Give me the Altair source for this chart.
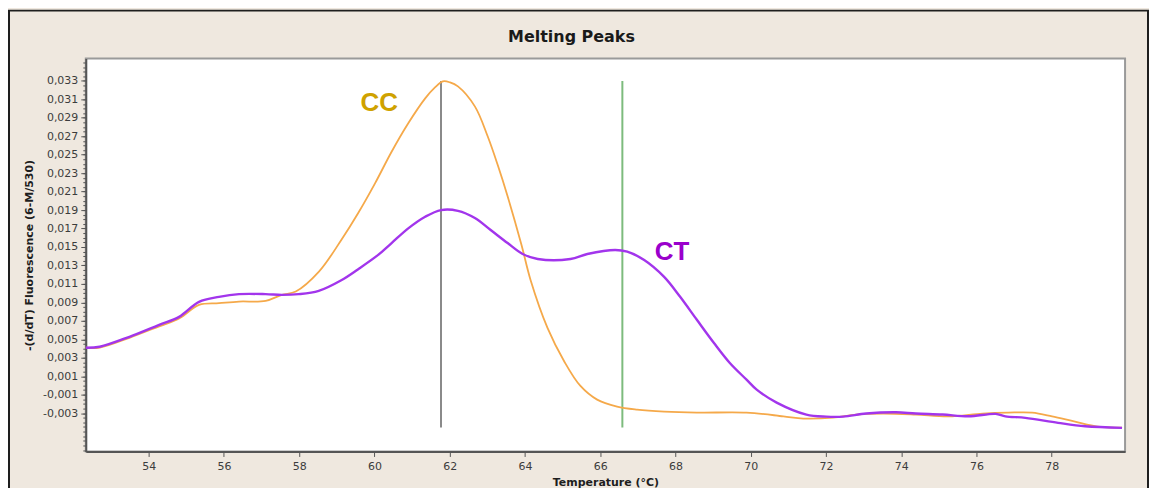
import altair as alt
import pandas as pd

# ---- data ----
cc_temp = [52.33, 52.70, 53.49, 54.28, 54.81, 55.34, 55.87, 56.40, 57.11, 57.54,
           57.91, 58.52, 59.12, 59.57, 60.02, 60.45, 60.90, 61.35, 61.61, 61.82,
           62.01, 62.22, 62.67, 63.01, 63.28, 63.54, 63.91, 64.15, 64.60, 65.05,
           65.47, 65.92, 66.45, 66.98, 67.70, 68.57, 69.89, 70.87, 71.40, 72.19,
           72.80, 73.52, 74.39, 75.26, 76.16, 76.85, 77.48, 78.01, 78.62, 79.23, 79.87]
cc_val = [0.00408, 0.00410, 0.00516, 0.00640, 0.00725, 0.00873, 0.00891, 0.00909, 0.00916, 0.00981,
          0.01017, 0.01230, 0.01576, 0.01868, 0.02192, 0.02527, 0.02841, 0.03111, 0.03230, 0.03295,
          0.03284, 0.03241, 0.03024, 0.02700, 0.02386, 0.02051, 0.01522, 0.01143, 0.00624, 0.00257,
          -0.00003, -0.00154, -0.00229, -0.00262, -0.00284, -0.00295, -0.00295, -0.00335, -0.00359, -0.00349,
          -0.00316, -0.00305, -0.00316, -0.00335, -0.00305, -0.00295, -0.00295, -0.00335, -0.00392, -0.00446, -0.00457]

ct_temp = [52.33, 52.70, 53.49, 54.28, 54.81, 55.34, 55.87, 56.40, 57.11, 57.54,
           57.99, 58.52, 59.12, 59.57, 60.10, 60.45, 60.90, 61.35, 61.77, 62.22, 62.67,
           63.09, 63.54, 63.94, 64.34, 65.21, 65.66, 66.40, 66.72, 67.17, 67.70,
           68.12, 68.57, 69.02, 69.44, 69.89, 70.16, 70.69, 71.48, 72.01, 72.46,
           73.07, 73.86, 74.39, 75.10, 75.79, 76.51, 76.77, 77.30, 78.17, 78.89, 79.87]
ct_val = [0.00408, 0.00419, 0.00527, 0.00657, 0.00743, 0.00905, 0.00959, 0.00989, 0.00989, 0.00981,
          0.00989, 0.01025, 0.01140, 0.01260, 0.01414, 0.01540, 0.01702, 0.01828, 0.01900, 0.01892, 0.01814,
          0.01684, 0.01543, 0.01424, 0.01370, 0.01370, 0.01424, 0.01468, 0.01449, 0.01359, 0.01176,
          0.00963, 0.00711, 0.00462, 0.00246, 0.00062, -0.00046, -0.00186, -0.00316, -0.00338, -0.00338,
          -0.00305, -0.00291, -0.00305, -0.00316, -0.00335, -0.00309, -0.00335, -0.00352, -0.00406, -0.00443, -0.00460]

series_names = ["CC", "CT"]
series_colors = ["#F5A94A", "#A235EC"]
label_colors = ["#CFA200", "#9A00CC"]
label_temp = [60.13, 67.91]
label_val = [0.03057, 0.01446]

tm_names = ["Tm CC", "Tm CT"]
tm_temp = [61.77, 66.59]
tm_top = [0.0330, 0.0330]
tm_bottom = [-0.00457, -0.00457]
tm_colors = ["#8A8A8A", "#7DBB7D"]

chart_title = "Melting Peaks"
x_title = "Temperature (°C)"
y_title = "-(d/dT) Fluorescence (6-M/530)"

x_ticks = [54, 56, 58, 60, 62, 64, 66, 68, 70, 72, 74, 76, 78]
y_ticks = [-0.003, -0.001, 0.001, 0.003, 0.005, 0.007, 0.009, 0.011, 0.013, 0.015,
           0.017, 0.019, 0.021, 0.023, 0.025, 0.027, 0.029, 0.031, 0.033]
y_minor = [round(-0.007 + 0.0005 * i, 4) for i in range(85)]

x_domain = [52.33, 79.95]
y_domain = [-0.00716, 0.03543]

W, H = 1042, 394

curve_df = pd.concat([
    pd.DataFrame({"temp": cc_temp, "val": cc_val, "series": "CC"}),
    pd.DataFrame({"temp": ct_temp, "val": ct_val, "series": "CT"}),
])
tm_df = pd.DataFrame({"name": tm_names, "temp": tm_temp, "top": tm_top, "bottom": tm_bottom})
lab_df = pd.DataFrame({"label": series_names, "temp": label_temp, "val": label_val})
minor_df = pd.DataFrame({"m": y_minor})

xs = alt.Scale(domain=x_domain, nice=False, zero=False)
ys = alt.Scale(domain=y_domain, nice=False, zero=False)

font = "DejaVu Sans"

x_axis = alt.Axis(values=x_ticks, title=x_title, tickSize=5,
                  labelPadding=4, titlePadding=5, titleFontSize=11)

frame = alt.Chart(pd.DataFrame({"k": [0]})).mark_rect(
    filled=False, stroke="#1e1e1e", strokeWidth=2
).encode(
    x=alt.value(-77), x2=alt.value(W + 23), y=alt.value(-48), y2=alt.value(H + 70)
)

title_mark = alt.Chart(pd.DataFrame({"t": [chart_title]})).mark_text(
    font=font, fontSize=16, fontWeight="bold", color="#1a1a1a",
    align="center", baseline="middle"
).encode(
    text="t:N", x=alt.value(W / 2 - 34), y=alt.value(-22)
)

rules = alt.Chart(tm_df).mark_rule(strokeWidth=2).encode(
    x=alt.X("temp:Q", scale=xs, axis=x_axis),
    y=alt.Y("top:Q", scale=ys, axis=None),
    y2="bottom:Q",
    stroke=alt.Stroke("name:N", scale=alt.Scale(domain=tm_names, range=tm_colors), legend=None),
)

lines = alt.Chart(curve_df).mark_line(interpolate="catmull-rom").encode(
    x=alt.X("temp:Q", scale=xs, axis=x_axis),
    y=alt.Y("val:Q", scale=ys,
            axis=alt.Axis(values=y_ticks, title=y_title,
                          labelExpr="replace(replace(format(datum.value, '.3f'), '.', ','), '\u2212', '-')",
                          tickSize=5, labelPadding=3, titlePadding=8, titleFontSize=11)),
    color=alt.Color("series:N", scale=alt.Scale(domain=series_names, range=series_colors), legend=None),
    strokeWidth=alt.StrokeWidth("series:N", scale=alt.Scale(domain=series_names, range=[1.8, 2.4]), legend=None),
)

labels = alt.Chart(lab_df).mark_text(
    font="Liberation Sans", fontSize=26, fontWeight="bold", align="center", baseline="middle"
).encode(
    x=alt.X("temp:Q", scale=xs, axis=x_axis),
    y=alt.Y("val:Q", scale=ys, axis=None),
    text="label:N",
    fill=alt.Fill("label:N", scale=alt.Scale(domain=series_names, range=label_colors), legend=None),
)

minor = alt.Chart(minor_df).mark_point(opacity=0).encode(
    y=alt.Y("m:Q", scale=ys,
            axis=alt.Axis(values=y_minor, labels=False, domain=False, tickSize=3,
                          orient="left", title=None, grid=False)),
)

chart = alt.layer(frame, title_mark, rules, lines, labels, minor).resolve_axis(
    y="independent"
).properties(
    width=W, height=H,
    autosize=alt.AutoSizeParams(type="none"),
    padding={"left": 78, "top": 50, "right": 24, "bottom": 36},
    background="#EFE8DF",
).configure_axis(
    labelFont=font, labelFontSize=11, labelColor="#3c3c3c",
    titleFont=font, titleFontWeight="bold", titleColor="#1e1e1e",
    domainColor="#555555", domainWidth=2, tickColor="#555555", grid=False,
).configure_view(
    stroke="#9a9a9a", strokeWidth=2, fill="white",
)

chart.save("out.html", embed_options={"renderer": "svg", "actions": False})
